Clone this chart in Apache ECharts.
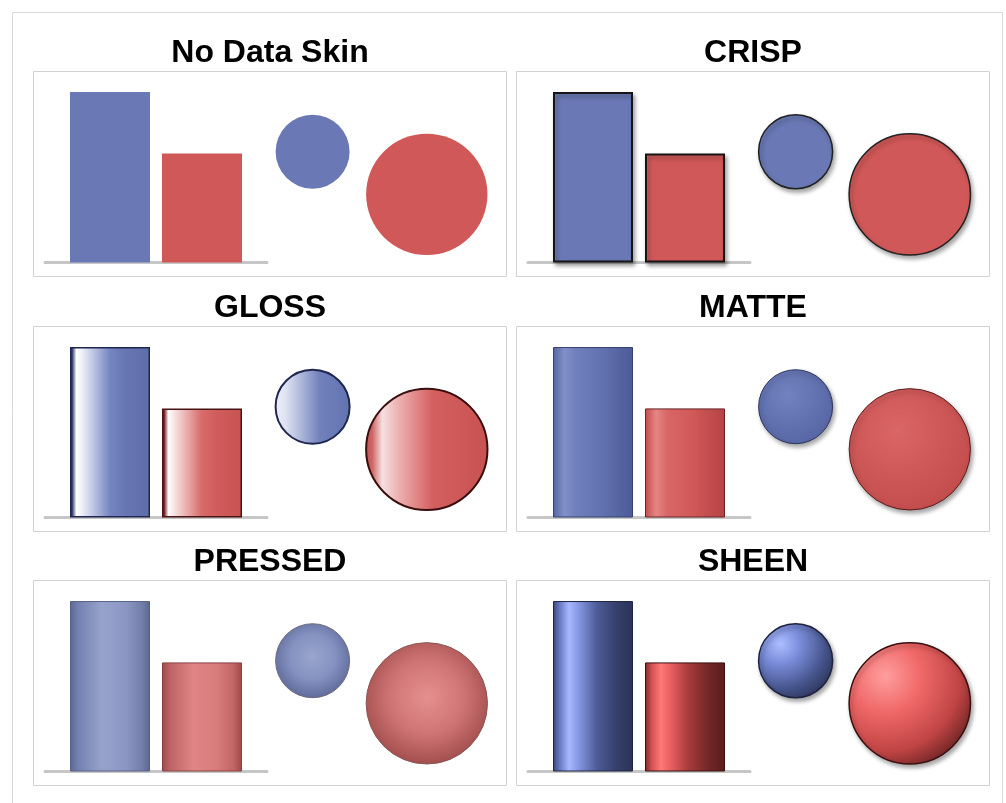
<!DOCTYPE html>
<html><head><meta charset="utf-8">
<script src="https://cdn.jsdelivr.net/npm/echarts@6/dist/echarts.min.js"></script>
<style>html,body{margin:0;padding:0;background:#fff}#c{width:1006px;height:803px}</style>
</head><body><div id="c"></div>
<script>
// ---- data ----
const skinNames = ['No Data Skin', 'CRISP', 'GLOSS', 'MATTE', 'PRESSED', 'SHEEN'];
const barGroups = ['Group'];
const barValuesBlue = [10];
const barValuesRed = [6.4];
const bubbleX = [1, 2];
const bubbleY = [6.5, 4.0];
const bubbleSize = [5, 8.2];
const yMax = 11;

// ---- styles ----
const BLUE = '#6a79b5', RED = '#d15858';
function lin(stops) { return { type: 'linear', x: 0, y: 0, x2: 1, y2: 0, colorStops: stops.map(s => ({ offset: s[0], color: s[1] })) }; }
function rad(x, y, r, stops) { return { type: 'radial', x: x, y: y, r: r, colorStops: stops.map(s => ({ offset: s[0], color: s[1] })) }; }
const shadow = { shadowColor: 'rgba(0,0,0,0.35)', shadowBlur: 4, shadowOffsetX: 2, shadowOffsetY: 3 };

const skinStyles = {
  'No Data Skin': {
    bar: [{ color: BLUE, borderWidth: 0 }, { color: RED, borderWidth: 0 }],
    bub: [{ color: BLUE, borderWidth: 0 }, { color: RED, borderWidth: 0 }]
  },
  'CRISP': {
    bar: [
      Object.assign({ color: lin([[0, '#8594ca'], [0.04, '#6a79b5'], [1, '#6a79b5']]), borderColor: '#151515', borderWidth: 2 }, shadow),
      Object.assign({ color: lin([[0, '#e48080'], [0.04, '#d15858'], [1, '#d15858']]), borderColor: '#151515', borderWidth: 2 }, shadow)
    ],
    bub: [
      Object.assign({ color: BLUE, borderColor: '#222', borderWidth: 1.5 }, shadow),
      Object.assign({ color: RED, borderColor: '#222', borderWidth: 1.5 }, shadow)
    ]
  },
  'GLOSS': {
    bar: [
      { color: lin([[0, '#27305a'], [0.03, '#3a4575'], [0.08, '#ffffff'], [0.15, '#eef0f8'], [0.5, '#7585c0'], [0.7, '#6676b3'], [1, '#5f6eab']]), borderColor: '#1f2750', borderWidth: 1.5 },
      { color: lin([[0, '#4a1212'], [0.03, '#7a2a2a'], [0.08, '#ffffff'], [0.15, '#f8e4e4'], [0.5, '#d86a6a'], [0.7, '#d05b5b'], [1, '#c85252']]), borderColor: '#4a1414', borderWidth: 1.5 }
    ],
    bub: [
      { color: lin([[0, '#f0f2f9'], [0.15, '#dde2f1'], [0.6, '#7080bb'], [1, '#6373b0']]), borderColor: '#1f2750', borderWidth: 2 },
      { color: lin([[0, '#c04e4e'], [0.06, '#d06868'], [0.14, '#f6e0e0'], [0.25, '#eeb8b8'], [0.55, '#d45f5f'], [1, '#c85252']]), borderColor: '#3a0e0e', borderWidth: 2 }
    ]
  },
  'MATTE': {
    bar: [
      { color: lin([[0, '#5565a3'], [0.14, '#8190c8'], [0.28, '#7080bd'], [0.6, '#6272b1'], [1, '#4c5a96']]), borderColor: '#354070', borderWidth: 1 },
      { color: lin([[0, '#c44c4c'], [0.14, '#e68585'], [0.28, '#d96767'], [0.6, '#d05858'], [1, '#b44444']]), borderColor: '#6a2424', borderWidth: 1 }
    ],
    bub: [
      Object.assign({ color: rad(0.4, 0.35, 0.7, [[0, '#7282c0'], [1, '#5565a3']]), borderColor: '#2c355e', borderWidth: 1 }, shadow),
      Object.assign({ color: rad(0.4, 0.35, 0.7, [[0, '#db6666'], [1, '#c24b4b']]), borderColor: '#5a1e1e', borderWidth: 1 }, shadow)
    ]
  },
  'PRESSED': {
    bar: [
      { color: lin([[0, '#5c6793'], [0.1, '#7480ae'], [0.4, '#97a2cc'], [0.7, '#8b96c3'], [0.9, '#737ea9'], [1, '#5a6590']]), borderColor: '#56608a', borderWidth: 1 },
      { color: lin([[0, '#9e4848'], [0.1, '#bf6464'], [0.4, '#e08686'], [0.7, '#d77a7a'], [0.9, '#c06464'], [1, '#9c4646']]), borderColor: '#8a4040', borderWidth: 1 }
    ],
    bub: [
      { color: rad(0.5, 0.45, 0.55, [[0, '#9aa5cd'], [0.55, '#8591c0'], [1, '#5f6b9b']]), borderColor: '#6a6a7a', borderWidth: 1 },
      { color: rad(0.5, 0.45, 0.55, [[0, '#e59090'], [0.55, '#cf7474'], [1, '#a34e4e']]), borderColor: '#8a5555', borderWidth: 1 }
    ]
  },
  'SHEEN': {
    bar: [
      { color: lin([[0, '#3a4575'], [0.08, '#6577c2'], [0.2, '#a8b8ff'], [0.32, '#8597e2'], [0.55, '#4d5b98'], [0.8, '#353f6a'], [1, '#2a3356']]), borderColor: '#1e2440', borderWidth: 1 },
      { color: lin([[0, '#7a2828'], [0.08, '#d25050'], [0.2, '#ff7878'], [0.32, '#e86060'], [0.55, '#a63a3a'], [0.8, '#722626'], [1, '#5a1c1c']]), borderColor: '#3a1010', borderWidth: 1 }
    ],
    bub: [
      Object.assign({ color: rad(0.3, 0.28, 0.85, [[0, '#aebeff'], [0.3, '#7b8ddb'], [0.7, '#46548c'], [1, '#283052']]), borderColor: '#1e2440', borderWidth: 1.5 }, shadow),
      Object.assign({ color: rad(0.3, 0.28, 0.85, [[0, '#ff9e9e'], [0.35, '#f06868'], [0.72, '#c04444'], [1, '#5e1e1e']]), borderColor: '#3a1010', borderWidth: 1.5 }, shadow)
    ]
  }
};

// ---- layout ----
const colLeft = [33.5, 516.5];
const rowTop = [71.5, 326.5, 580.5];
const boxW = 473, boxH = 205;
const baseOff = 191, plotH = 187.5;

const grids = [], xAxes = [], yAxes = [], series = [], graphics = [];
graphics.push({ type: 'rect', z: -1, shape: { x: 12.5, y: 12.5, width: 990, height: 800 }, style: { fill: 'none', stroke: '#d9d9d9', lineWidth: 1 } });

skinNames.forEach((name, i) => {
  const L = colLeft[i % 2], T = rowTop[Math.floor(i / 2)];
  const st = skinStyles[name];
  graphics.push({ type: 'rect', z: -1, shape: { x: L, y: T, width: boxW, height: boxH }, style: { fill: 'none', stroke: '#d2d2d2', lineWidth: 1 } });
  graphics.push({ type: 'text', x: L + boxW / 2, y: T - 18, style: { text: name, font: 'bold 32px "Liberation Sans", Arial, sans-serif', fill: '#000', align: 'center', verticalAlign: 'middle' } });

  const gTop = T + baseOff - plotH;
  grids.push({ left: L + 11.5, top: gTop, width: 222, height: plotH });
  grids.push({ left: L + 222, top: gTop, width: 228.4, height: plotH });
  const gb = 2 * i, gs = 2 * i + 1;
  xAxes.push({ gridIndex: gb, type: 'category', data: barGroups, axisLine: { show: true, lineStyle: { color: '#c6c6c6', width: 3 } }, axisTick: { show: false }, axisLabel: { show: false }, splitLine: { show: false } });
  yAxes.push({ gridIndex: gb, type: 'value', min: 0, max: yMax, show: false, splitLine: { show: false } });
  xAxes.push({ gridIndex: gs, type: 'value', min: 0.5, max: 2.5, show: false, splitLine: { show: false } });
  yAxes.push({ gridIndex: gs, type: 'value', min: 0, max: yMax, show: false, splitLine: { show: false } });

  series.push({ type: 'bar', xAxisIndex: gb, yAxisIndex: gb, data: barValuesBlue, barWidth: 80, barGap: '15%', itemStyle: st.bar[0], silent: true });
  series.push({ type: 'bar', xAxisIndex: gb, yAxisIndex: gb, data: barValuesRed, barWidth: 80, barGap: '15%', itemStyle: st.bar[1], silent: true });
  series.push({
    type: 'scatter', xAxisIndex: gs, yAxisIndex: gs, clip: false, silent: true,
    data: bubbleX.map((x, k) => ({ value: [x, bubbleY[k], bubbleSize[k]], itemStyle: Object.assign({ opacity: 1 }, st.bub[k]) })),
    symbolSize: v => v[2] * 14.8
  });
});

const chart = echarts.init(document.getElementById('c'), null, { renderer: 'canvas' });
chart.setOption({
  animation: false,
  backgroundColor: '#fff',
  grid: grids, xAxis: xAxes, yAxis: yAxes, series: series, graphic: graphics
});
</script></body></html>
